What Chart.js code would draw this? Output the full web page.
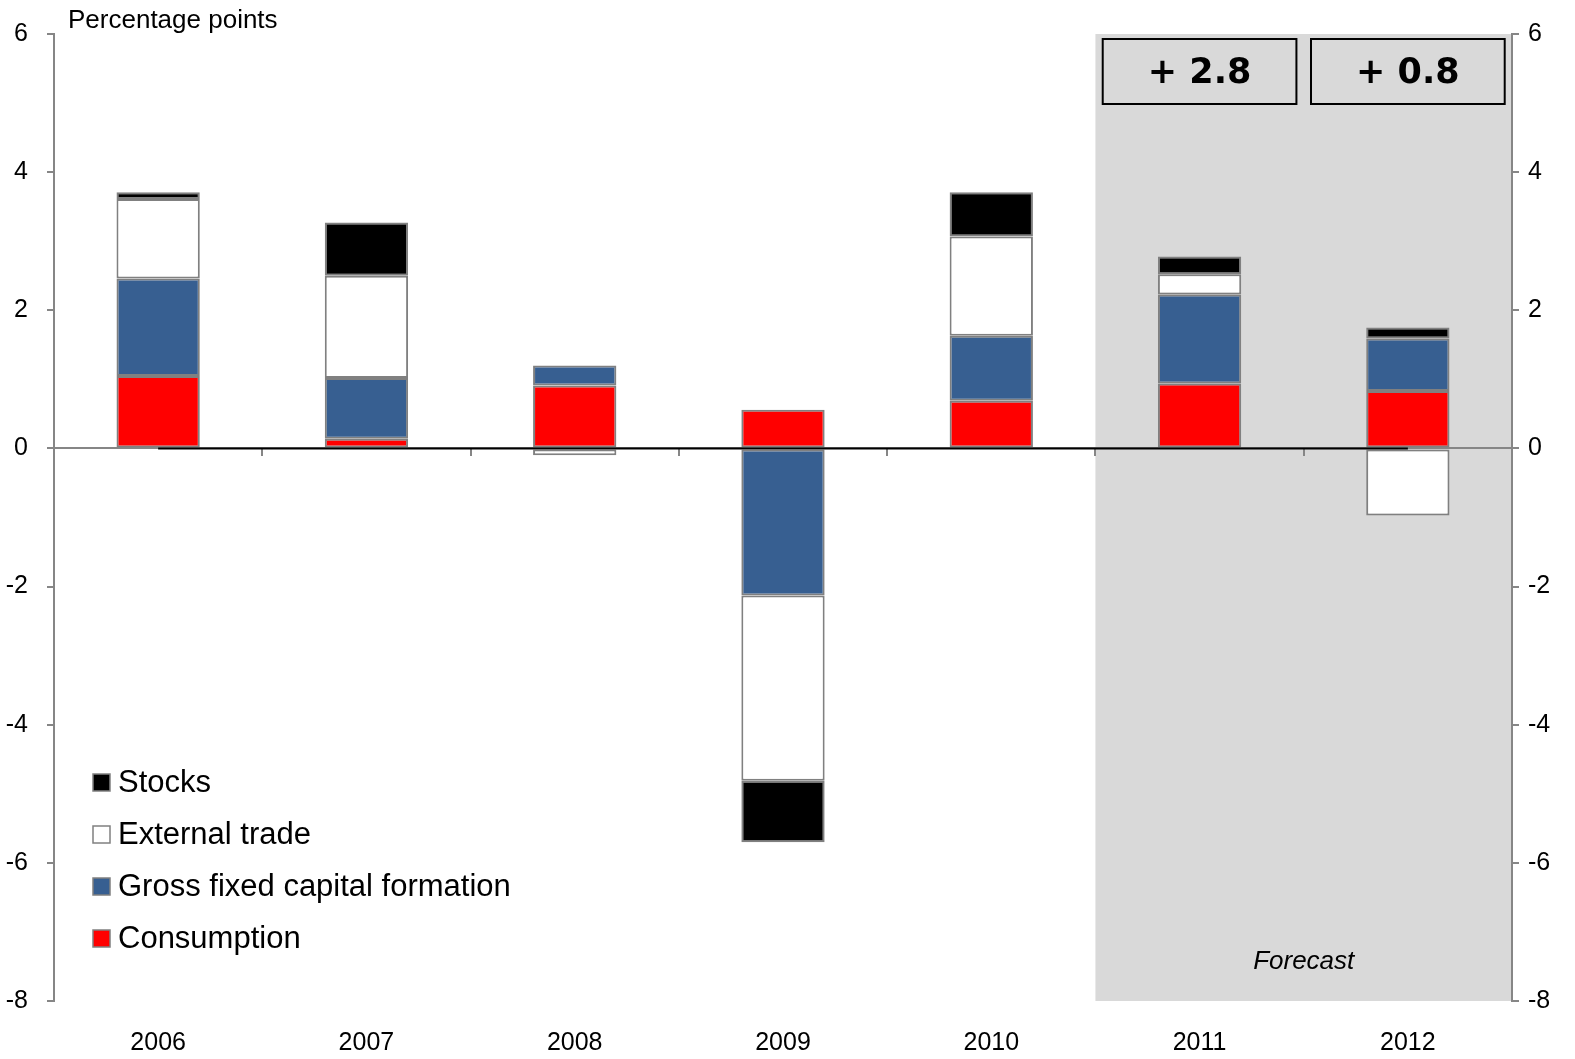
<!DOCTYPE html>
<html>
<head>
<meta charset="utf-8">
<title>Contributions to GDP growth</title>
<script src="https://cdn.jsdelivr.net/npm/chart.js@4.4.1/dist/chart.umd.min.js"></script>
<style>
    html, body { margin: 0; padding: 0; background: #fff; }
    #wrap { width: 1575px; height: 1059px; }
</style>
</head>
<body>
<div id="wrap"><canvas id="chart" width="1575" height="1059"></canvas></div>
<script>
// data (percentage points)
const years = ['2006', '2007', '2008', '2009', '2010', '2011', '2012'];
const consumption = [1.05, 0.14, 0.91, 0.56, 0.69, 0.94, 0.83];
const gfcf = [1.41, 0.88, 0.29, -2.13, 0.94, 1.29, 0.76];
const externalTrade = [1.15, 1.48, -0.10, -2.68, 1.44, 0.29, -0.97];
const stocks = [0.10, 0.77, null, -0.89, 0.64, 0.26, 0.16];
const zeroLine = [0, 0, 0, 0, 0, 0, 0];
const yTicks = [-8, -6, -4, -2, 0, 2, 4, 6];
const forecastYears = ['2011', '2012'];
const forecastTotals = ['+ 2.8', '+ 0.8'];

const AXIS_GREY = '#868686';
const BAR_EDGE = '#808080';
const SHADE = '#d9d9d9';
const FONT = "'Liberation Sans', Arial, sans-serif";

Chart.defaults.font.family = FONT;
Chart.defaults.color = '#000';

function setTicks(scale) {
    scale.ticks = yTicks.map(v => ({ value: v }));
}

// grey forecast area behind everything
const forecastShade = {
    id: 'forecastShade',
    beforeDraw(chart) {
        const { ctx, chartArea, scales } = chart;
        const first = years.indexOf(forecastYears[0]);
        const x0 = scales.x.getPixelForValue(first - 0.5);
        ctx.save();
        ctx.fillStyle = SHADE;
        ctx.fillRect(x0, chartArea.top, chartArea.right - x0, chartArea.bottom - chartArea.top);
        ctx.restore();
    }
};

// boxes with totals, "Forecast" note, axis title and legend
const annotations = {
    id: 'annotations',
    afterDraw(chart) {
        const { ctx, chartArea, scales } = chart;
        const x = scales.x;
        const cw = x.getPixelForValue(1) - x.getPixelForValue(0);
        ctx.save();

        // total boxes
        forecastYears.forEach((yr, i) => {
            const cx = x.getPixelForValue(years.indexOf(yr));
            const w = cw * 0.93;
            const top = chartArea.top + 5;
            const h = 65;
            ctx.fillStyle = SHADE;
            ctx.fillRect(cx - w / 2, top, w, h);
            ctx.strokeStyle = '#000';
            ctx.lineWidth = 2;
            ctx.strokeRect(cx - w / 2, top, w, h);
            ctx.fillStyle = '#000';
            ctx.font = "bold 35px 'DejaVu Sans', Verdana, sans-serif";
            ctx.textAlign = 'center';
            ctx.textBaseline = 'middle';
            ctx.fillText(forecastTotals[i], cx, top + h / 2 + 2);
        });

        // Forecast label
        const fx = x.getPixelForValue(years.indexOf(forecastYears[0]) + 0.5);
        ctx.font = 'italic 26px ' + FONT;
        ctx.textAlign = 'center';
        ctx.textBaseline = 'middle';
        ctx.fillStyle = '#000';
        ctx.fillText('Forecast', fx, chartArea.bottom - 39);

        // axis title
        ctx.font = '26px ' + FONT;
        ctx.textAlign = 'left';
        ctx.textBaseline = 'alphabetic';
        ctx.fillText('Percentage points', chartArea.left + 14, 28);

        // legend, reverse dataset order
        const items = chart.data.datasets.filter(d => d.type !== 'line').slice().reverse();
        ctx.font = '31px ' + FONT;
        ctx.textBaseline = 'middle';
        items.forEach((d, i) => {
            const cy = chartArea.bottom - 219 + i * 52;
            const sx = chartArea.left + 39;
            ctx.fillStyle = d.backgroundColor;
            ctx.fillRect(sx, cy - 8, 17, 17);
            ctx.strokeStyle = BAR_EDGE;
            ctx.lineWidth = 1.5;
            ctx.strokeRect(sx, cy - 8, 17, 17);
            ctx.fillStyle = '#000';
            ctx.fillText(d.label, sx + 25, cy + 1);
        });
        ctx.restore();
    }
};

function barSet(label, data, color) {
    return {
        type: 'bar',
        label: label,
        data: data,
        backgroundColor: color,
        borderColor: BAR_EDGE,
        borderWidth: 2,
        borderSkipped: false,
        barPercentage: 0.4,
        categoryPercentage: 1.0,
        order: 1
    };
}

new Chart(document.getElementById('chart'), {
    type: 'bar',
    data: {
        labels: years,
        datasets: [
            barSet('Consumption', consumption, '#ff0000'),
            barSet('Gross fixed capital formation', gfcf, '#375f91'),
            barSet('External trade', externalTrade, '#ffffff'),
            barSet('Stocks', stocks, '#000000'),
            {
                type: 'line',
                label: 'zero',
                data: zeroLine,
                borderColor: '#000',
                borderWidth: 2,
                pointRadius: 0,
                stack: 'line',
                order: 0
            }
        ]
    },
    options: {
        responsive: false,
        animation: false,
        devicePixelRatio: 1,
        layout: { padding: { top: 32, left: 0, right: 0, bottom: 0 } },
        plugins: {
            legend: { display: false },
            tooltip: { enabled: false }
        },
        scales: {
            x: {
                stacked: true,
                position: 'bottom',
                grid: { display: false, drawTicks: false },
                border: { display: false },
                ticks: { padding: 27, font: { size: 25 }, maxRotation: 0 },
                afterFit(scale) { scale.height = 58; }
            },
            x0: {
                type: 'category',
                labels: years,
                position: { y: 0 },
                offset: true,
                grid: { offset: true, drawOnChartArea: false, drawTicks: true, tickLength: 7, color: AXIS_GREY, lineWidth: 2 },
                border: { color: AXIS_GREY, width: 2 },
                ticks: { display: false }
            },
            y: {
                stacked: true,
                position: 'left',
                min: -8,
                max: 6,
                afterBuildTicks: setTicks,
                grid: { drawOnChartArea: false, tickLength: 7, color: AXIS_GREY, lineWidth: 2 },
                border: { color: AXIS_GREY, width: 2 },
                ticks: { padding: 19, font: { size: 25 } },
                afterFit(scale) { scale.width = 54; }
            },
            y2: {
                position: 'right',
                min: -8,
                max: 6,
                afterBuildTicks: setTicks,
                grid: { drawOnChartArea: false, tickLength: 7, color: AXIS_GREY, lineWidth: 2 },
                border: { color: AXIS_GREY, width: 2 },
                ticks: { padding: 9, font: { size: 25 } },
                afterFit(scale) { scale.width = 63; }
            }
        }
    },
    plugins: [forecastShade, annotations]
});
</script>
</body>
</html>
